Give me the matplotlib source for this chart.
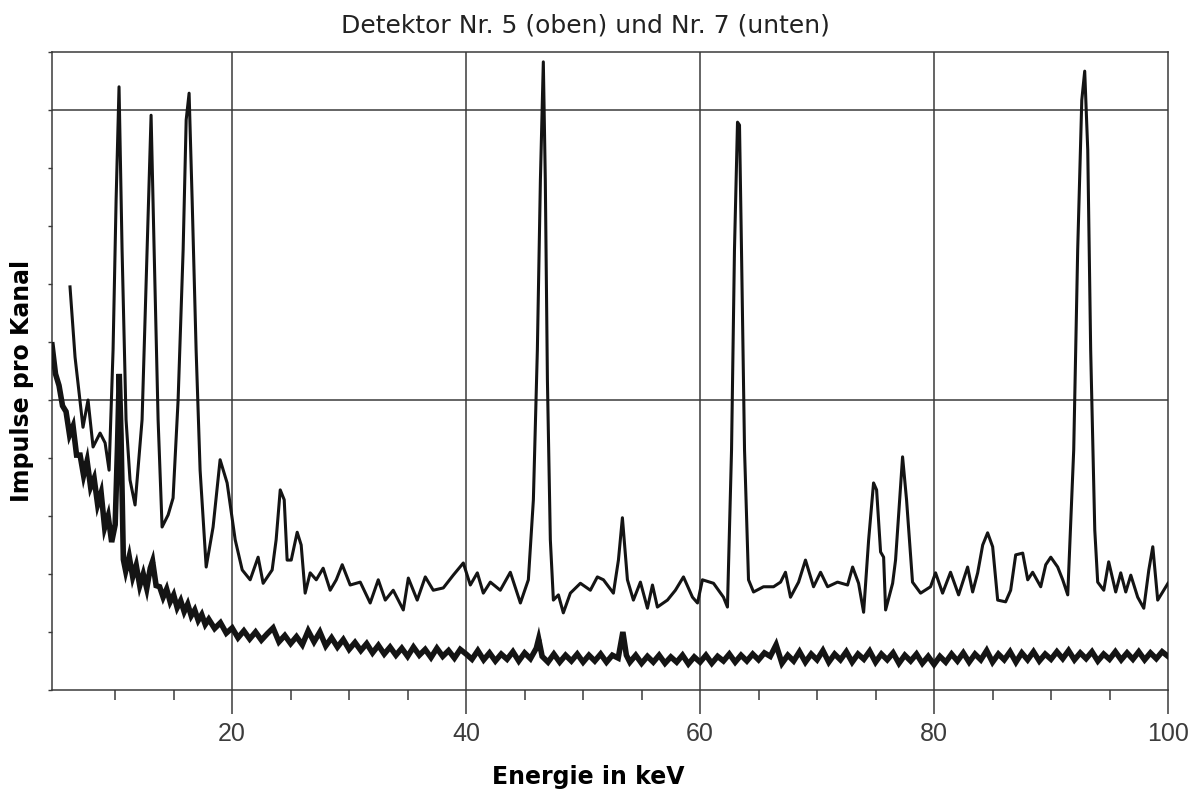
import matplotlib
matplotlib.use("Agg")
import matplotlib.pyplot as plt
from matplotlib.ticker import MultipleLocator, FixedLocator

# ---------------- data ----------------
title_text = "Detektor Nr. 5 (oben) und Nr. 7 (unten)"
x_label = "Energie in keV"
y_label = "Impulse pro Kanal"
x_major_ticks = [20, 40, 60, 80, 100]
x_minor_ticks = [10, 15, 25, 30, 35, 45, 50, 55, 65, 70, 75, 85, 90, 95]
x_tick_labels = ["20", "40", "60", "80", "100"]

# Detector 5 (upper spectrum)
det5_keV = [6.14, 6.57, 7.25, 7.68, 8.11, 8.71, 9.14, 9.48, 9.82, 10.08, 10.33,
            10.59, 10.93, 11.27, 11.70, 12.30, 12.73, 13.07, 13.33, 13.67, 14.01,
            14.53, 14.95, 15.38, 15.81, 16.07, 16.32, 16.58, 16.92, 17.26, 17.78,
            18.37, 18.97, 19.57, 20.26, 20.86, 21.54, 22.22, 22.65, 23.42, 23.76,
            24.11, 24.45, 24.70, 25.05, 25.56, 25.90, 26.24, 26.67, 27.19, 27.78,
            28.38, 28.90, 29.41, 30.09, 30.95, 31.80, 32.49, 33.09, 33.77, 34.63,
            35.06, 35.82, 36.51, 37.19, 38.05, 38.90, 39.76, 40.36, 40.96, 41.47,
            42.07, 42.92, 43.78, 44.64, 45.32, 45.75, 46.09, 46.35, 46.60, 46.77,
            46.95, 47.20, 47.46, 47.89, 48.31, 48.91, 49.77, 50.62, 51.22, 51.74,
            52.59, 53.02, 53.36, 53.79, 54.30, 54.90, 55.50, 55.93, 56.35, 57.21,
            57.89, 58.58, 59.35, 59.78, 60.20, 61.15, 62.00, 62.34, 62.69, 62.94,
            63.20, 63.37, 63.54, 63.80, 64.14, 64.57, 65.42, 66.28, 66.88, 67.30,
            67.73, 68.42, 69.01, 69.70, 70.30, 70.90, 71.75, 72.61, 73.04, 73.55,
            73.98, 74.41, 74.83, 75.09, 75.43, 75.69, 75.86, 76.46, 76.71, 77.31,
            77.65, 78.16, 78.85, 79.70, 80.13, 80.73, 81.41, 82.10, 82.87, 83.30,
            83.73, 84.16, 84.58, 85.01, 85.44, 86.12, 86.55, 86.98, 87.58, 88.01,
            88.43, 89.12, 89.55, 89.98, 90.57, 91.00, 91.43, 91.94, 92.28, 92.63,
            92.88, 93.14, 93.39, 93.74, 93.99, 94.51, 94.93, 95.53, 95.96, 96.39,
            96.82, 97.41, 97.93, 98.36, 98.70, 99.12, 99.64, 100.0]
det5_counts = [6.95, 5.74, 4.53, 5.00, 4.19, 4.43, 4.26, 3.79, 5.86, 8.45, 10.40,
               7.59, 4.66, 3.62, 3.19, 4.66, 7.59, 9.91, 7.59, 4.66, 2.81,
               3.02, 3.31, 5.00, 7.59, 9.83, 10.29, 8.45, 5.86, 3.79, 2.12,
               2.81, 3.97, 3.57, 2.59, 2.07, 1.90, 2.29, 1.84, 2.07, 2.59,
               3.45, 3.28, 2.24, 2.24, 2.72, 2.50, 1.67, 2.02, 1.90, 2.10,
               1.72, 1.90, 2.16, 1.81, 1.86, 1.50, 1.90, 1.55, 1.72, 1.38,
               1.93, 1.55, 1.95, 1.72, 1.76, 1.98, 2.19, 1.81, 2.02, 1.67,
               1.86, 1.72, 2.03, 1.50, 1.90, 3.28, 5.86, 8.79, 10.83, 8.79,
               5.34, 2.59, 1.55, 1.64, 1.33, 1.67, 1.84, 1.72, 1.95, 1.90,
               1.67, 2.24, 2.97, 1.90, 1.55, 1.86, 1.41, 1.81, 1.43, 1.55,
               1.72, 1.95, 1.60, 1.50, 1.90, 1.84, 1.60, 1.43, 4.14, 7.59,
               9.79, 9.74, 7.59, 4.14, 1.90, 1.69, 1.78, 1.78, 1.86, 2.03,
               1.60, 1.86, 2.24, 1.78, 2.03, 1.78, 1.86, 1.81, 2.12, 1.84,
               1.34, 2.59, 3.57, 3.45, 2.38, 2.29, 1.38, 1.84, 2.24, 4.02,
               3.28, 1.86, 1.67, 1.78, 2.02, 1.67, 2.03, 1.64, 2.12, 1.69,
               2.02, 2.50, 2.71, 2.47, 1.55, 1.52, 1.72, 2.33, 2.36, 1.90,
               2.03, 1.78, 2.16, 2.29, 2.12, 1.90, 1.64, 4.14, 7.59, 10.17,
               10.67, 9.31, 5.86, 2.76, 1.86, 1.72, 2.21, 1.69, 2.02, 1.69,
               1.98, 1.60, 1.41, 2.07, 2.47, 1.55, 1.72, 1.84]

# Detector 7 (lower spectrum)
det7_keV = [4.6, 4.9, 5.2, 5.5, 5.8, 6.1, 6.4, 6.7, 7.0, 7.3, 7.6, 7.9, 8.2, 8.5,
            8.8, 9.1, 9.4, 9.7, 10.0, 10.2, 10.35, 10.5, 10.7, 10.9, 11.2, 11.5,
            11.8, 12.1, 12.4, 12.7, 13.0, 13.2, 13.5, 13.8, 14.1, 14.4, 14.7,
            15.0, 15.3, 15.6, 15.9, 16.2, 16.5, 16.8, 17.1, 17.4, 17.7, 18.0,
            18.5, 19.0, 19.5, 20.0, 20.5, 21.0, 21.5, 22.0, 22.5, 23.0, 23.5,
            24.0, 24.5, 25.0, 25.5, 26.0, 26.5, 27.0, 27.5, 28.0, 28.5, 29.0,
            29.5, 30.0, 30.5, 31.0, 31.5, 32.0, 32.5, 33.0, 33.5, 34.0, 34.5,
            35.0, 35.5, 36.0, 36.5, 37.0, 37.5, 38.0, 38.5, 39.0, 39.5, 40.0,
            40.5, 41.0, 41.5, 42.0, 42.5, 43.0, 43.5, 44.0, 44.5, 45.0, 45.5,
            46.0, 46.2, 46.5, 47.0, 47.5, 48.0, 48.5, 49.0, 49.5, 50.0, 50.5,
            51.0, 51.5, 52.0, 52.5, 53.0, 53.4, 53.7, 54.0, 54.5, 55.0, 55.5,
            56.0, 56.5, 57.0, 57.5, 58.0, 58.5, 59.0, 59.5, 60.0, 60.5, 61.0,
            61.5, 62.0, 62.5, 63.0, 63.5, 64.0, 64.5, 65.0, 65.5, 66.0, 66.5,
            67.0, 67.5, 68.0, 68.5, 69.0, 69.5, 70.0, 70.5, 71.0, 71.5, 72.0,
            72.5, 73.0, 73.5, 74.0, 74.5, 75.0, 75.5, 76.0, 76.5, 77.0, 77.5,
            78.0, 78.5, 79.0, 79.5, 80.0, 80.5, 81.0, 81.5, 82.0, 82.5, 83.0,
            83.5, 84.0, 84.5, 85.0, 85.5, 86.0, 86.5, 87.0, 87.5, 88.0, 88.5,
            89.0, 89.5, 90.0, 90.5, 91.0, 91.5, 92.0, 92.5, 93.0, 93.5, 94.0,
            94.5, 95.0, 95.5, 96.0, 96.5, 97.0, 97.5, 98.0, 98.5, 99.0, 99.5,
            100.0]
det7_counts = [5.95, 5.45, 5.25, 4.90, 4.80, 4.40, 4.55, 4.05, 4.05, 3.70, 3.95,
               3.50, 3.65, 3.20, 3.40, 2.80, 3.00, 2.55, 2.85, 4.20, 5.45, 4.40,
               2.25, 2.05, 2.30, 1.95, 2.15, 1.80, 2.00, 1.75, 2.10, 2.22, 1.80,
               1.78, 1.60, 1.74, 1.52, 1.64, 1.42, 1.54, 1.35, 1.48, 1.28, 1.38,
               1.20, 1.30, 1.13, 1.22, 1.06, 1.16, 0.98, 1.07, 0.90, 1.02, 0.88,
               1.00, 0.86, 0.97, 1.07, 0.83, 0.94, 0.80, 0.92, 0.78, 1.02, 0.83,
               1.00, 0.76, 0.90, 0.74, 0.87, 0.70, 0.82, 0.68, 0.80, 0.64, 0.77,
               0.62, 0.74, 0.60, 0.72, 0.58, 0.74, 0.60, 0.70, 0.56, 0.72, 0.58,
               0.68, 0.55, 0.70, 0.62, 0.53, 0.68, 0.52, 0.64, 0.50, 0.62, 0.53,
               0.66, 0.50, 0.64, 0.54, 0.72, 0.88, 0.58, 0.48, 0.62, 0.48, 0.60,
               0.50, 0.62, 0.48, 0.60, 0.50, 0.62, 0.48, 0.60, 0.55, 1.00, 0.60,
               0.48, 0.60, 0.46, 0.58, 0.48, 0.60, 0.46, 0.57, 0.48, 0.60, 0.45,
               0.57, 0.48, 0.60, 0.46, 0.58, 0.50, 0.62, 0.48, 0.60, 0.50, 0.62,
               0.52, 0.64, 0.58, 0.78, 0.46, 0.60, 0.50, 0.66, 0.48, 0.62, 0.52,
               0.68, 0.48, 0.62, 0.52, 0.66, 0.48, 0.62, 0.53, 0.67, 0.48, 0.62,
               0.52, 0.64, 0.46, 0.60, 0.50, 0.62, 0.46, 0.58, 0.44, 0.58, 0.48,
               0.62, 0.50, 0.64, 0.48, 0.62, 0.52, 0.68, 0.48, 0.62, 0.52, 0.66,
               0.48, 0.64, 0.52, 0.66, 0.50, 0.62, 0.53, 0.66, 0.54, 0.68, 0.52,
               0.64, 0.54, 0.66, 0.50, 0.62, 0.53, 0.66, 0.52, 0.64, 0.53, 0.66,
               0.52, 0.64, 0.54, 0.66, 0.58]

# ---------------- figure ----------------
W, H = 1196, 789
fig = plt.figure(figsize=(W / 100, H / 100), dpi=100)
fig.patch.set_facecolor("white")
ax = fig.add_axes([52 / W, (H - 690) / H, 1116 / W, 638 / H])

ink = "#141414"
frame = "#3a3a3a"

ax.plot(det7_keV, det7_counts, color=ink, lw=4.0, solid_joinstyle="miter", zorder=3)
ax.plot(det5_keV, det5_counts, color=ink, lw=2.2, solid_joinstyle="round", zorder=4)

ax.set_xlim(4.6, 100)
ax.set_ylim(0, 11)

ax.set_xticks(x_major_ticks)
ax.set_xticklabels(x_tick_labels)
ax.xaxis.set_minor_locator(FixedLocator(x_minor_ticks))
ax.yaxis.set_major_locator(MultipleLocator(1))
ax.set_yticklabels([])

ax.tick_params(axis="x", which="major", direction="out", length=17, width=1.1,
               color=frame, pad=6, labelsize=18, labelcolor="#3c3c3c")
ax.tick_params(axis="x", which="minor", direction="out", length=7, width=1.1, color=frame)
ax.tick_params(axis="y", which="major", direction="out", length=3, width=1.0, color=frame)
for lab in ax.get_xticklabels():
    lab.set_fontfamily("Liberation Sans")

for x in [20, 40, 60, 80]:
    ax.axvline(x, color=frame, lw=1.1, zorder=1)
for y in [5, 10]:
    ax.axhline(y, color=frame, lw=1.1, zorder=1)

for s in ax.spines.values():
    s.set_color(frame)
    s.set_linewidth(1.1)

fig.text(585 / W, 1 - 32 / H, title_text, ha="center", va="baseline",
         fontsize=18, color="#222222", family="DejaVu Sans")
fig.text(588 / W, 1 - 784 / H, x_label, ha="center", va="baseline",
         fontsize=17, fontweight="bold", color="black", family="DejaVu Sans")
fig.text(22 / W, 1 - 381 / H, y_label, ha="center", va="center", rotation=90,
         fontsize=17, fontweight="bold", color="black", family="DejaVu Sans")

fig.savefig("out.png", dpi=100)
